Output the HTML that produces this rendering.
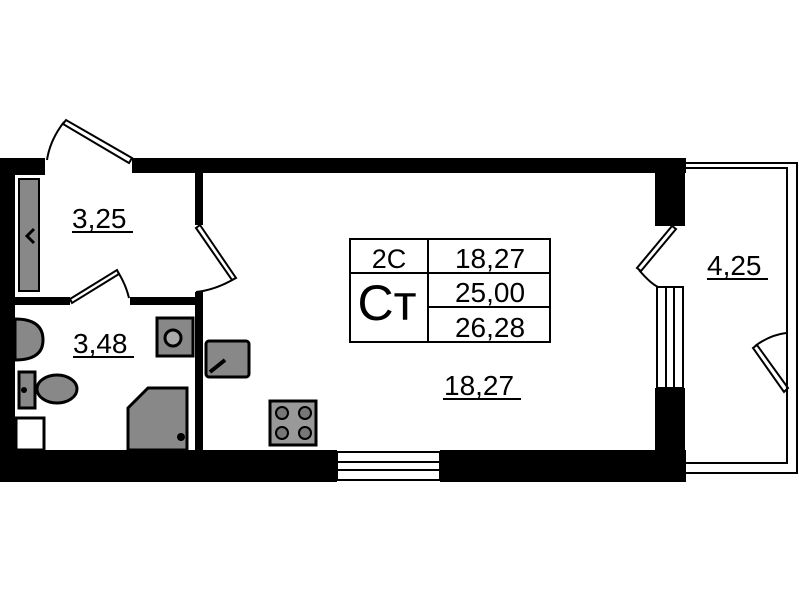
<!DOCTYPE html>
<html><head><meta charset="utf-8"><style>
html,body{margin:0;padding:0;background:#fff;}
svg{display:block}
text{font-family:"Liberation Sans",sans-serif;fill:#000}
</style></head><body>
<svg width="799" height="600" viewBox="0 0 799 600" xmlns="http://www.w3.org/2000/svg">
<rect width="799" height="600" fill="#fff"/>
<g fill="none" stroke="#000" stroke-width="2">
<polyline points="685,168 787,168 787,463 685,463"/>
<polyline points="685,163 797,163 797,473 685,473"/>
</g>
<g fill="#000">
<rect x="0" y="158" width="45" height="17"/>
<rect x="132" y="158" width="554" height="15"/>
<rect x="0" y="158" width="15" height="324"/>
<rect x="0" y="450" width="337" height="32"/>
<rect x="440" y="450" width="246" height="32"/>
<rect x="655" y="158" width="30" height="68"/>
<rect x="655" y="388" width="30" height="94"/>
<rect x="195" y="173" width="8" height="52"/>
<rect x="195" y="292" width="8" height="160"/>
<rect x="15" y="297" width="55" height="8"/>
<rect x="130" y="297" width="73" height="8"/>
</g>
<g fill="none" stroke="#000" stroke-width="2">
<rect x="337" y="452" width="103" height="28"/>
<line x1="337" y1="462" x2="440" y2="462"/>
<line x1="337" y1="470" x2="440" y2="470"/>
<rect x="657" y="287" width="26" height="101"/>
<line x1="666" y1="287" x2="666" y2="388"/>
<line x1="674" y1="287" x2="674" y2="388"/>
</g>
<g fill="none" stroke="#000" stroke-width="2">
<polygon points="132,158 66,120 63,124 129,163"/>
<path d="M64,122 Q50,140 47,160"/>
<polygon points="196,228 232,280 236,278 200,225"/>
<path d="M234,279 Q215,290 196,292"/>
<polygon points="70,299 117,270 119,274 72,303"/>
<path d="M118,272 Q126,285 129,298"/>
<polygon points="672,226 637,268 641,271 676,229"/>
<path d="M639,270 Q650,283 658,287"/>
<polygon points="788,388 757,345 753,348 784,392"/>
<path d="M755,346 Q770,335 786,333"/>
</g>
<rect x="19" y="179" width="20" height="112" fill="#888" stroke="#000" stroke-width="2"/>
<path d="M34,229 L27,236 L34,243" fill="none" stroke="#000" stroke-width="3"/>
<g stroke="#000" stroke-width="3">
<path d="M15,319 Q43,319 43,340 Q43,360 15,360 Z" fill="#888"/>
<rect x="19" y="372" width="16" height="36" fill="#888"/>
<ellipse cx="57" cy="389" rx="20" ry="14" fill="#888"/>
<rect x="157" y="318" width="36" height="38" fill="#888"/>
<circle cx="173" cy="338" r="8" fill="#aaa"/>
<polygon points="128,408 148,388 187,388 187,450 128,450" fill="#888"/>
<rect x="16" y="418" width="28" height="32" fill="#fff"/>
<rect x="206" y="341" width="43" height="36" rx="3" fill="#888"/>
<rect x="270" y="401" width="46" height="44" fill="#999"/>
</g>
<circle cx="181" cy="437" r="4" fill="#000"/>
<circle cx="24" cy="390" r="3" fill="#000"/>
<line x1="210" y1="372" x2="225" y2="360" stroke="#000" stroke-width="4"/>
<g fill="#777" stroke="#000" stroke-width="2">
<circle cx="282" cy="413" r="6"/><circle cx="305" cy="413" r="6"/>
<circle cx="282" cy="433" r="6"/><circle cx="305" cy="433" r="6"/>
</g>
<g fill="none" stroke="#000" stroke-width="2">
<rect x="350" y="239" width="200" height="103"/>
<line x1="428" y1="239" x2="428" y2="342"/>
<line x1="350" y1="273" x2="550" y2="273"/>
<line x1="428" y1="307" x2="550" y2="307"/>
</g>
<text x="389" y="268" font-size="27" text-anchor="middle">2С</text>
<text x="490" y="268" font-size="28" text-anchor="middle">18,27</text>
<text x="490" y="302" font-size="28" text-anchor="middle">25,00</text>
<text x="490" y="337" font-size="28" text-anchor="middle">26,28</text>
<text x="387" y="320" font-size="50" text-anchor="middle">Ст</text>
<g font-size="28">
<text x="72" y="228">3,25</text>
<text x="73" y="353">3,48</text>
<text x="444" y="395">18,27</text>
<text x="707" y="275">4,25</text>
</g>
<g stroke="#000" stroke-width="2">
<line x1="72" y1="232" x2="133" y2="232"/>
<line x1="73" y1="357" x2="134" y2="357"/>
<line x1="443" y1="399" x2="521" y2="399"/>
<line x1="707" y1="279" x2="768" y2="279"/>
</g>
</svg>
</body></html>
